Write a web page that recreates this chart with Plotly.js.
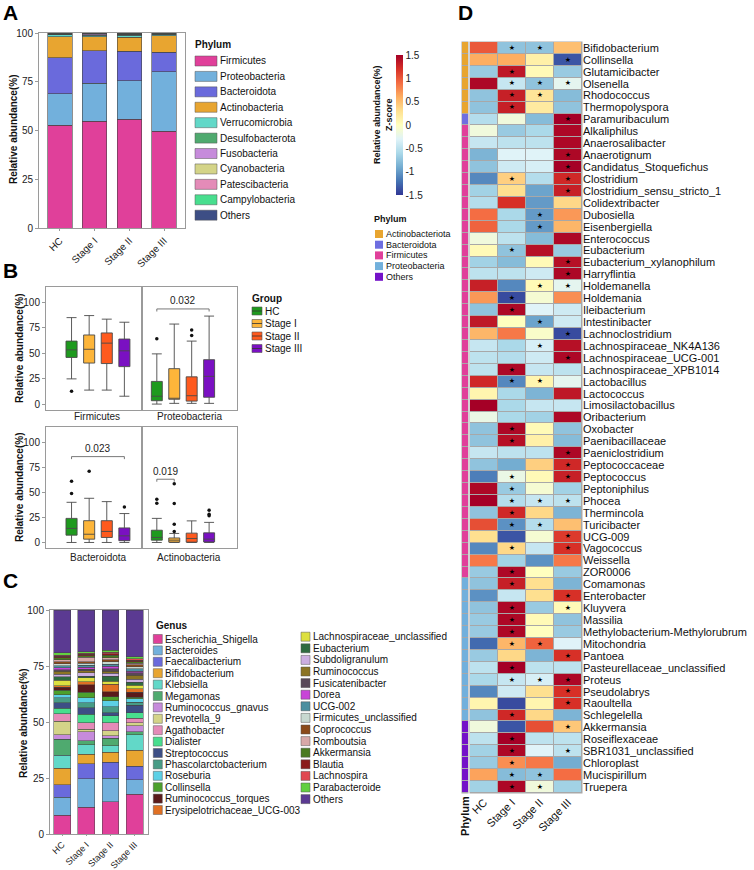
<!DOCTYPE html>
<html><head><meta charset="utf-8">
<script src="https://cdn.plot.ly/plotly-3.0.1.min.js"></script>
<style>html,body{margin:0;padding:0;background:#fff}</style>
</head><body><div id="chart" style="width:754px;height:870px"></div>
<script>
// ================= DATA =================
const groups = ['HC', 'Stage I', 'Stage II', 'Stage III'];

// ---- Panel A : phylum composition (%)
const phylaA = ['Firmicutes','Proteobacteria','Bacteroidota','Actinobacteria','Verrucomicrobia','Desulfobacterota','Fusobacteria','Cyanobacteria','Patescibacteria','Campylobacteria','Others'];
const phylaAColors = ['#E0409A','#72B0DC','#6A6ADC','#E8A530','#62D8C8','#4FAA6F','#C68BDB','#D4D488','#E48BB8','#48DE8E','#3D4E85'];
const phylumHC       = [52.8, 16.0, 18.4, 10.8, 1.0, 0.3, 0.1, 0.1, 0.1, 0.2, 0.2];
const phylumStageI   = [54.7, 19.6, 16.5, 7.4, 0.6, 0.3, 0.5, 0.1, 0.1, 0.1, 0.1];
const phylumStageII  = [55.7, 19.9, 15.1, 7.2, 1.0, 0.4, 0.1, 0.1, 0.1, 0.2, 0.2];
const phylumStageIII = [49.7, 30.5, 9.9, 8.4, 0.6, 0.3, 0.1, 0.1, 0.1, 0.2, 0.1];

// ---- Panel B : box plot statistics (rows = phylum, cols = group)
const boxPhyla = ['Firmicutes','Proteobacteria','Bacteroidota','Actinobacteria'];
const groupColors = ['#1E9A1E','#FDB53A','#FF5A1E','#7A10C2'];
const boxLo  = [[25, 14, 14, 8],      [0.3, 1, 1, 1],       [0, 0, 0, 0],         [0, 0, 0, 0]];
const boxQ1  = [[46, 40.5, 40, 37],   [3.6, 5, 3.2, 7],     [7.3, 3.3, 5, 1.8],   [2.3, 0.3, 0.3, 0.5]];
const boxMed = [[53.4, 54, 60, 52.5], [8, 6, 8.5, 27.5],    [14, 8.2, 11, 6.6],   [5, 2.3, 4, 3.3]];
const boxQ3  = [[62, 68, 70, 64],     [22.5, 35, 27, 43.8], [24, 21.7, 21.7, 14.5],[12.2, 4.5, 9.3, 9.6]];
const boxHi  = [[85, 87, 83.5, 80.5], [49.5, 78.7, 62, 86.5],[40, 44, 40.7, 28.8], [24, 9, 21.5, 20]];
const boxOutliers = [
  [[12.8], [], [], []],
  [[64.3], [], [67.5, 72.8], []],
  [[48.7, 61], [71], [], [35.4]],
  [[39, 43], [11, 18.2, 38.8, 58.5], [], [26.5, 28, 32]]
];
const sigPhylum = ['Proteobacteria', 'Bacteroidota', 'Actinobacteria'];
const sigLabel  = ['0.032', '0.023', '0.019'];
const sigFrom   = ['HC', 'HC', 'HC'];
const sigTo     = ['Stage III', 'Stage III', 'Stage I'];
const sigY      = [93.5, 85.5, 63];

// ---- Panel C : genus composition (%)
const generaC = ['Escherichia_Shigella','Bacteroides','Faecalibacterium','Bifidobacterium','Klebsiella','Megamonas','Ruminococcus_gnavus','Prevotella_9','Agathobacter','Dialister','Streptococcus','Phascolarctobacterium','Roseburia','Collinsella','Ruminococcus_torques','Erysipelotrichaceae_UCG-003','Lachnospiraceae_unclassified','Eubacterium','Subdoligranulum','Ruminococcus','Fusicatenibacter','Dorea','UCG-002','Firmicutes_unclassified','Coprococcus','Romboutsia','Akkermansia','Blautia','Lachnospira','Parabacteroide','Others'];
const generaCColors = ['#E0409A','#72B0DC','#6A6ADC','#E8A530','#62D8C8','#4FAA6F','#C68BDB','#D4D488','#E48BB8','#48DE8E','#3D4E85','#479C86','#5CD0E6','#4CA02C','#5A1A1A','#E07023','#DDE040','#2E6B40','#CBAEE0','#8B7424','#584858','#C844D8','#4A8FA0','#C8D8D0','#8B4A1A','#D8A8A8','#4A7A20','#8B1A1A','#E04850','#62D040','#5B3A92'];
const genusHC       = [8.3, 8.1, 5.5, 7.5, 5.8, 7.1, 1.9, 6.2, 3.3, 2.4, 2.5, 2.2, 1.3, 2.1, 1.3, 0.7, 2.4, 1.5, 1.3, 1.2, 0.7, 0.9, 0.9, 0.9, 1.0, 0.7, 0.9, 0.7, 0.6, 1.0, 19.1];
const genusStageI   = [12.0, 12.6, 6.7, 4.4, 4.1, 1.8, 4.1, 1.0, 3.0, 3.7, 3.0, 2.2, 2.2, 2.5, 3.4, 1.2, 1.8, 0.7, 1.5, 1.0, 0.7, 0.9, 0.9, 0.9, 0.7, 1.8, 0.7, 0.7, 0.6, 0.6, 18.6];
const genusStageII  = [14.5, 10.4, 7.1, 4.4, 3.0, 3.4, 1.0, 2.2, 3.7, 3.0, 1.5, 2.5, 2.7, 1.9, 2.1, 3.4, 1.5, 2.2, 1.2, 1.0, 1.0, 1.2, 0.9, 1.2, 0.9, 0.7, 1.2, 0.7, 0.7, 0.9, 17.9];
const genusStageIII = [17.8, 6.4, 6.1, 7.0, 7.1, 1.3, 2.7, 1.2, 2.1, 2.4, 3.3, 1.5, 1.5, 0.7, 2.2, 1.5, 1.5, 1.5, 1.2, 1.8, 1.2, 0.7, 1.0, 0.9, 0.9, 0.7, 0.7, 0.7, 0.7, 0.9, 20.8];

// ---- Panel D : heatmap (row z-scores)
const heatGenera = ['Bifidobacterium','Collinsella','Glutamicibacter','Olsenella','Rhodococcus','Thermopolyspora','Paramuribaculum','Alkaliphilus','Anaerosalibacter','Anaerotignum','Candidatus_Stoquefichus','Clostridium','Clostridium_sensu_stricto_1','Colidextribacter','Dubosiella','Eisenbergiella','Enterococcus','Eubacterium','Eubacterium_xylanophilum','Harryflintia','Holdemanella','Holdemania','Ileibacterium','Intestinibacter','Lachnoclostridium','Lachnospiraceae_NK4A136','Lachnospiraceae_UCG-001','Lachnospiraceae_XPB1014','Lactobacillus','Lactococcus','Limosilactobacillus','Oribacterium','Oxobacter','Paenibacillaceae','Paeniclostridium','Peptococcaceae','Peptococcus','Peptoniphilus','Phocea','Thermincola','Turicibacter','UCG-009','Vagococcus','Weissella','ZOR0006','Comamonas','Enterobacter','Kluyvera','Massilia','Methylobacterium-Methylorubrum','Mitochondria','Pantoea','Pasteurellaceae_unclassified','Proteus','Pseudolabrys','Raoultella','Schlegelella','Akkermansia','Roseiflexaceae','SBR1031_unclassified','Chloroplast','Mucispirillum','Truepera'];
const heatPhylum = ['Actinobacteriota','Actinobacteriota','Actinobacteriota','Actinobacteriota','Actinobacteriota','Actinobacteriota','Bacteroidota',
  'Firmicutes','Firmicutes','Firmicutes','Firmicutes','Firmicutes','Firmicutes','Firmicutes','Firmicutes','Firmicutes','Firmicutes',
  'Firmicutes','Firmicutes','Firmicutes','Firmicutes','Firmicutes','Firmicutes','Firmicutes','Firmicutes','Firmicutes','Firmicutes',
  'Firmicutes','Firmicutes','Firmicutes','Firmicutes','Firmicutes','Firmicutes','Firmicutes','Firmicutes','Firmicutes','Firmicutes',
  'Firmicutes','Firmicutes','Firmicutes','Firmicutes','Firmicutes','Firmicutes','Firmicutes','Firmicutes',
  'Proteobacteria','Proteobacteria','Proteobacteria','Proteobacteria','Proteobacteria','Proteobacteria','Proteobacteria','Proteobacteria','Proteobacteria','Proteobacteria','Proteobacteria','Proteobacteria',
  'Others','Others','Others','Others','Others','Others'];
const phylaD = ['Actinobacteriota','Bacteroidota','Firmicutes','Proteobacteria','Others'];
const phylaDColors = ['#E8A530','#6E6EE0','#E0409A','#72B0DC','#7412C8'];
const zHC = [1.0,0.6,-0.7,1.45,-0.75,-0.75,-0.55,-0.15,-0.45,-0.85,-0.75,-1.1,-0.65,-0.55,0.9,0.95,-0.15,0.05,-0.65,-0.5,1.3,0.7,-0.75,1.35,0.55,-0.45,-0.5,-0.5,1.25,0.1,1.5,-0.2,-0.75,-0.75,-0.45,-0.75,-1.15,1.45,1.5,-0.75,1.05,0.3,-1.1,0.85,-0.7,-0.75,-1.05,-0.75,-0.7,-0.7,-1.25,-0.7,-0.5,-0.6,-1.1,0.1,-0.75,-0.15,-0.5,-0.65,-0.7,0.65,-0.65];
const zStageI = [-0.75,0.6,1.35,-0.45,1.3,1.3,-0.15,-0.7,-0.5,-0.3,-0.4,0.4,0.3,1.2,-0.6,-0.6,-0.5,-0.75,-0.8,-0.5,-1.1,-1.4,1.45,0.0,0.85,-0.6,-0.55,1.45,-1.1,-0.6,-0.6,-0.6,1.45,1.4,-0.5,-0.9,-0.2,-0.7,-0.55,1.25,-1.05,-1.35,0.35,-0.65,1.45,1.3,-0.45,1.45,1.45,1.45,0.55,0.35,1.5,-0.45,-0.4,-1.4,1.25,-1.35,1.5,1.45,0.75,-0.8,1.45];
const zStageII = [-0.75,0.15,0.05,-0.75,0.25,0.2,-0.8,-0.6,-0.5,-0.3,-0.35,-0.55,-0.95,-1.0,-1.0,-1.0,-0.8,1.4,0.05,-0.4,0.05,-0.1,-0.3,-0.95,-0.05,-0.35,-0.4,-0.45,0.1,-0.85,-0.45,-0.65,0.05,0.15,-0.5,0.4,0.05,-0.1,-0.45,0.35,-0.55,-0.1,-0.45,-1.05,0.0,0.3,0.3,-0.7,0.05,0.0,0.95,-0.85,-0.5,-0.35,0.3,0.1,0.35,1.05,-0.5,-0.3,0.85,-0.75,-0.15];
const zStageIII = [0.5,-1.35,-0.7,-0.25,-0.8,-0.75,1.5,1.45,1.45,1.45,1.5,1.25,1.3,0.35,0.7,0.55,1.45,-0.7,1.4,1.45,-0.25,0.75,-0.4,-0.4,-1.4,1.4,1.45,-0.5,-0.25,1.35,-0.45,1.45,-0.75,-0.8,1.45,1.25,1.3,-0.65,-0.5,-0.85,0.5,1.15,1.2,0.85,-0.7,-0.85,1.2,0.05,-0.75,-0.7,-0.3,1.2,-0.5,1.45,1.2,1.2,-0.85,0.45,-0.5,-0.5,-0.9,0.9,-0.65];
const starsHC = [];
const starsStageI = ['Bifidobacterium','Glutamicibacter','Olsenella','Rhodococcus','Thermopolyspora','Clostridium','Eubacterium','Holdemania','Ileibacterium','Lachnospiraceae_XPB1014','Lactobacillus','Oxobacter','Paenibacillaceae','Peptococcus','Peptoniphilus','Phocea','Thermincola','Turicibacter','Vagococcus','ZOR0006','Comamonas','Kluyvera','Massilia','Methylobacterium-Methylorubrum','Mitochondria','Pasteurellaceae_unclassified','Proteus','Schlegelella','Roseiflexaceae','SBR1031_unclassified','Chloroplast','Mucispirillum','Truepera'];
const starsStageII = ['Bifidobacterium','Olsenella','Rhodococcus','Dubosiella','Eisenbergiella','Holdemanella','Intestinibacter','Lachnospiraceae_NK4A136','Lactobacillus','Phocea','Turicibacter','Mitochondria','Proteus','Mucispirillum','Truepera'];
const starsStageIII = ['Collinsella','Olsenella','Paramuribaculum','Anaerotignum','Candidatus_Stoquefichus','Clostridium','Clostridium_sensu_stricto_1','Eubacterium_xylanophilum','Harryflintia','Holdemanella','Lachnoclostridium','Lachnospiraceae_UCG-001','Paeniclostridium','Peptococcaceae','Peptococcus','Phocea','UCG-009','Vagococcus','Enterobacter','Kluyvera','Pantoea','Proteus','Pseudolabrys','Raoultella','Akkermansia','SBR1031_unclassified'];

// ================= BUILD =================
const FONT = 'Arial, "Liberation Sans", Helvetica, sans-serif';
const W = 754, H = 870;
const PX = v => v / W;
const PY = v => 1 - v / H;
const DX = (a, b) => [a / W, b / W];
const DY = (top, bot) => [1 - bot / H, 1 - top / H];

const traces = [];
const shapes = [];
const annotations = [];

function txt(text, x, y, o) {
  annotations.push(Object.assign({
    text, xref: 'paper', yref: 'paper', x: PX(x), y: PY(y),
    xanchor: 'left', yanchor: 'middle', showarrow: false, borderpad: 0,
    font: {family: FONT, size: 10, color: '#111'}
  }, o || {}));
}
function rect(x0, y0, x1, y1, fill, line, layer) {
  shapes.push({type: 'rect', xref: 'paper', yref: 'paper',
    x0: PX(x0), x1: PX(x1), y0: PY(y1), y1: PY(y0),
    fillcolor: fill, line: line || {width: 0}, layer: layer || 'above'});
}
function hline(x0, x1, y, color, w) {
  shapes.push({type: 'line', xref: 'paper', yref: 'paper', x0: PX(x0), x1: PX(x1), y0: PY(y), y1: PY(y), line: {color, width: w}});
}

// ---- Panel A
const phylumByGroup = [phylumHC, phylumStageI, phylumStageII, phylumStageIII];
phylaA.forEach((p, i) => {
  traces.push({type: 'bar', x: groups, y: phylumByGroup.map(a => a[i]), xaxis: 'x', yaxis: 'y',
    marker: {color: phylaAColors[i], line: {color: '#444', width: 0.6}},
    showlegend: false, hoverinfo: 'skip'});
});

// ---- Panel B
const boxAxes = [['x2','y2'], ['x3','y3'], ['x4','y4'], ['x5','y5']];
boxPhyla.forEach((p, pi) => {
  const [xa, ya] = boxAxes[pi];
  groups.forEach((g, gi) => {
    traces.push({type: 'box', x: [g], xaxis: xa, yaxis: ya,
      q1: [boxQ1[pi][gi]], median: [boxMed[pi][gi]], q3: [boxQ3[pi][gi]],
      lowerfence: [boxLo[pi][gi]], upperfence: [boxHi[pi][gi]],
      boxpoints: false, width: 0.63,
      fillcolor: groupColors[gi], line: {color: '#4a4a4a', width: 0.9},
      whiskerwidth: 0.9, name: g, showlegend: false, hoverinfo: 'skip'});
  });
  const ox = [], oy = [];
  groups.forEach((g, gi) => boxOutliers[pi][gi].forEach(v => { ox.push(g); oy.push(v); }));
  traces.push({type: 'scatter', mode: 'markers', x: ox, y: oy, xaxis: xa, yaxis: ya,
    marker: {color: '#111', size: 3.5}, showlegend: false, hoverinfo: 'skip', cliponaxis: false});
});
// significance brackets
sigPhylum.forEach((p, k) => {
  const pi = boxPhyla.indexOf(p);
  const [xa, ya] = boxAxes[pi];
  const a = groups.indexOf(sigFrom[k]), b = groups.indexOf(sigTo[k]);
  const ln = {color: '#555', width: 0.8};
  shapes.push({type: 'line', xref: xa, yref: ya, x0: a, x1: b, y0: sigY[k], y1: sigY[k], line: ln});
  shapes.push({type: 'line', xref: xa, yref: ya, x0: a, x1: a, y0: sigY[k], y1: sigY[k] - 2.5, line: ln});
  shapes.push({type: 'line', xref: xa, yref: ya, x0: b, x1: b, y0: sigY[k], y1: sigY[k] - 2.5, line: ln});
  annotations.push({text: sigLabel[k], xref: xa, yref: ya, x: (a + b) / 2, y: sigY[k] + 1.5,
    xanchor: 'center', yanchor: 'bottom', showarrow: false, borderpad: 0,
    font: {family: FONT, size: 10, color: '#222'}});
});
// facet labels (strip at bottom)
const facetPos = [[97, 417], [189, 417], [98, 557], [189, 557]];
boxPhyla.forEach((p, pi) => txt(p, facetPos[pi][0], facetPos[pi][1], {xanchor: 'center', font: {family: FONT, size: 10, color: '#222'}}));

// ---- Panel C
const genusByGroup = [genusHC, genusStageI, genusStageII, genusStageIII];
generaC.forEach((g, i) => {
  traces.push({type: 'bar', x: groups, y: genusByGroup.map(a => a[i]), xaxis: 'x6', yaxis: 'y6',
    marker: {color: generaCColors[i], line: {color: '#444', width: 0.5}},
    showlegend: false, hoverinfo: 'skip'});
});

// ---- Panel D
const rdylbu = ['#313695','#4575B4','#74ADD1','#ABD9E9','#E0F3F8','#FFFFBF','#FEE090','#FDAE61','#F46D43','#D73027','#A50026'];
const cs = rdylbu.map((c, i) => [i / (rdylbu.length - 1), c]);
traces.push({type: 'heatmap', x: groups, y: heatGenera,
  z: heatGenera.map((g, i) => [zHC[i], zStageI[i], zStageII[i], zStageIII[i]]),
  xaxis: 'x7', yaxis: 'y7', zmin: -1.5, zmax: 1.5, colorscale: cs, xgap: 1, ygap: 1,
  hoverinfo: 'skip',
  colorbar: {x: PX(396), xanchor: 'left', y: PY(125), yanchor: 'middle',
    len: 140, lenmode: 'pixels', thickness: 7, thicknessmode: 'pixels',
    xpad: 0, ypad: 0, outlinewidth: 0, ticks: '',
    tickvals: [-1.5, -1, -0.5, 0, 0.5, 1, 1.5], ticktext: ['-1.5', '-1', '-0.5', '0', '0.5', '1', '1.5'],
    tickfont: {family: FONT, size: 10, color: '#222'}}
});
const disc = [];
phylaDColors.forEach((c, i) => { disc.push([i / 5, c]); disc.push([(i + 1) / 5, c]); });
traces.push({type: 'heatmap', x: ['Phylum'], y: heatGenera,
  z: heatGenera.map((g, i) => [phylaD.indexOf(heatPhylum[i])]),
  xaxis: 'x8', yaxis: 'y7', zmin: -0.5, zmax: 4.5, colorscale: disc, showscale: false,
  ygap: 1, hoverinfo: 'skip'});
const starLists = [starsHC, starsStageI, starsStageII, starsStageIII];
const sx = [], sy = [];
starLists.forEach((list, ci) => list.forEach(g => { sx.push(groups[ci]); sy.push(g); }));
traces.push({type: 'scatter', mode: 'text', x: sx, y: sy, text: sx.map(() => '★'),
  textposition: 'middle center', textfont: {family: '"DejaVu Sans", sans-serif', size: 7, color: '#000'},
  xaxis: 'x7', yaxis: 'y7', showlegend: false, hoverinfo: 'skip', cliponaxis: false});

// gray cell borders
rect(469.5, 41.5, 582.5, 793.5, '#A8A8A8', {width: 0}, 'below');
rect(461.5, 41.5, 468.5, 793.5, '#A8A8A8', {width: 0}, 'below');

// ================= LEGENDS & LABELS =================
const bold = s => '<b>' + s + '</b>';
txt(bold('A'), 2, 13, {font: {family: FONT, size: 21, color: '#000'}});
txt(bold('B'), 2, 271, {font: {family: FONT, size: 21, color: '#000'}});
txt(bold('C'), 2, 580, {font: {family: FONT, size: 21, color: '#000'}});
txt(bold('D'), 457, 13, {font: {family: FONT, size: 21, color: '#000'}});

const yt = (x, y) => txt(bold('Relative abundance(%)'), x, y, {xanchor: 'center', yanchor: 'middle', textangle: -90});
yt(13, 130); yt(19, 349); yt(19, 488); yt(23, 724);
txt(bold('Relative abundance(%)') + '<br>' + bold('Z-score'), 383, 115,
  {xanchor: 'center', yanchor: 'middle', textangle: -90, font: {family: FONT, size: 9, color: '#111'}});

// legend A
txt(bold('Phylum'), 194, 44);
phylaA.forEach((p, i) => {
  const cy = 61 + i * 15.42;
  rect(195, cy - 5, 217, cy + 5, phylaAColors[i], {color: '#555', width: 0.5});
  txt(p, 219, cy);
});

// legend B
txt(bold('Group'), 251, 298);
groups.forEach((g, i) => {
  const cy = 311 + i * 12.5;
  rect(252, cy - 4, 262, cy + 4, groupColors[i], {color: '#555', width: 0.6});
  hline(252, 262, cy, '#333', 0.8);
  txt(g, 264, cy);
});

// legend C (two columns)
txt(bold('Genus'), 155, 625);
generaC.forEach((g, i) => {
  let x, cy;
  if (i < 16) { x = 153.3; cy = 639 + i * 11.4; }
  else { x = 301; cy = 636.7 + (i - 16) * 11.6; }
  rect(x, cy - 4.5, x + 9, cy + 4.5, generaCColors[i], {color: '#555', width: 0.5});
  txt(g, x + 11, cy);
});

// legend D
txt(bold('Phylum'), 373, 219, {font: {family: FONT, size: 9, color: '#111'}});
phylaD.forEach((p, i) => {
  const cy = 234 + i * 10.7;
  rect(375, cy - 4, 383, cy + 4, phylaDColors[i], {width: 0});
  txt(p, 385, cy, {font: {family: FONT, size: 9, color: '#111'}});
});

// ================= AXES =================
const frame = {showline: true, mirror: true, linecolor: '#9a9a9a', linewidth: 1, showgrid: false, zeroline: false, fixedrange: true};
const tf = {family: FONT, size: 10, color: '#222'};
function barX(dom, anchor, range, fs, tl) {
  return Object.assign({domain: dom, anchor, type: 'category', categoryorder: 'array', categoryarray: groups,
    range, tickangle: -45, tickfont: {family: FONT, size: fs, color: '#222'}, ticks: 'outside', ticklen: tl, tickcolor: '#9a9a9a'}, frame);
}
function barY(dom, anchor) {
  return Object.assign({domain: dom, anchor, range: [0, 100], tickvals: [0, 25, 50, 75, 100],
    tickfont: tf, ticks: 'outside', ticklen: 3, tickcolor: '#9a9a9a'}, frame);
}
function boxX(dom, anchor, range) {
  return Object.assign({domain: dom, anchor, type: 'category', categoryorder: 'array', categoryarray: groups,
    range, showticklabels: false, ticks: ''}, frame);
}
function boxY(dom, anchor, labels) {
  return Object.assign({domain: dom, anchor, range: [-5.5, 115], tickvals: [0, 25, 50, 75, 100],
    showticklabels: labels, tickfont: tf, ticks: labels ? 'outside' : '', ticklen: 3, tickcolor: '#9a9a9a'}, frame);
}

const layout = {
  width: W, height: H, margin: {l: 0, r: 0, t: 0, b: 0},
  paper_bgcolor: '#fff', plot_bgcolor: 'rgba(0,0,0,0)',
  font: {family: FONT, size: 10, color: '#222'},
  barmode: 'stack', bargap: 0.3, boxmode: 'overlay',
  showlegend: false,
  xaxis: barX(DX(39, 185), 'y', [-0.6, 3.6], 10, 2),
  yaxis: barY(DY(33, 228), 'x'),
  xaxis2: boxX(DX(46, 142), 'y2', [-1.45, 4.0]),
  yaxis2: boxY(DY(287, 410), 'x2', true),
  xaxis3: boxX(DX(142, 237), 'y3', [-0.85, 4.6]),
  yaxis3: boxY(DY(287, 410), 'x3', false),
  xaxis4: boxX(DX(46, 142), 'y4', [-1.45, 4.0]),
  yaxis4: boxY(DY(427, 548), 'x4', true),
  xaxis5: boxX(DX(142, 237), 'y5', [-0.85, 4.6]),
  yaxis5: boxY(DY(427, 548), 'x5', false),
  xaxis6: barX(DX(50, 148), 'y6', [-0.5, 3.55], 9, 1),
  yaxis6: barY(DY(610, 834), 'x6'),
  xaxis7: {domain: DX(470, 582), anchor: 'y7', type: 'category', categoryorder: 'array', categoryarray: groups,
    range: [-0.5, 3.5], tickangle: -45, ticks: '', showgrid: false, zeroline: false, showline: false,
    tickfont: {family: FONT, size: 11, color: '#111'}, fixedrange: true},
  yaxis7: {domain: DY(42, 793), anchor: 'x7', type: 'category', categoryorder: 'array', categoryarray: heatGenera,
    range: [heatGenera.length - 0.5, -0.5], side: 'right', ticks: '', showgrid: false, zeroline: false, showline: false,
    tickmode: 'array', tickvals: heatGenera, ticktext: heatGenera,
    tickfont: {family: FONT, size: 11, color: '#111'}, fixedrange: true},
  xaxis8: {domain: DX(462, 468), anchor: 'y7', type: 'category', range: [-0.5, 0.5], tickangle: -90,
    tickvals: ['Phylum'], ticktext: ['<b>Phylum</b>'], ticks: '', showgrid: false, zeroline: false, showline: false,
    tickfont: {family: FONT, size: 11, color: '#111'}, fixedrange: true},
  shapes, annotations
};

Plotly.newPlot('chart', traces, layout, {staticPlot: true, displayModeBar: false});
</script>
</body></html>
